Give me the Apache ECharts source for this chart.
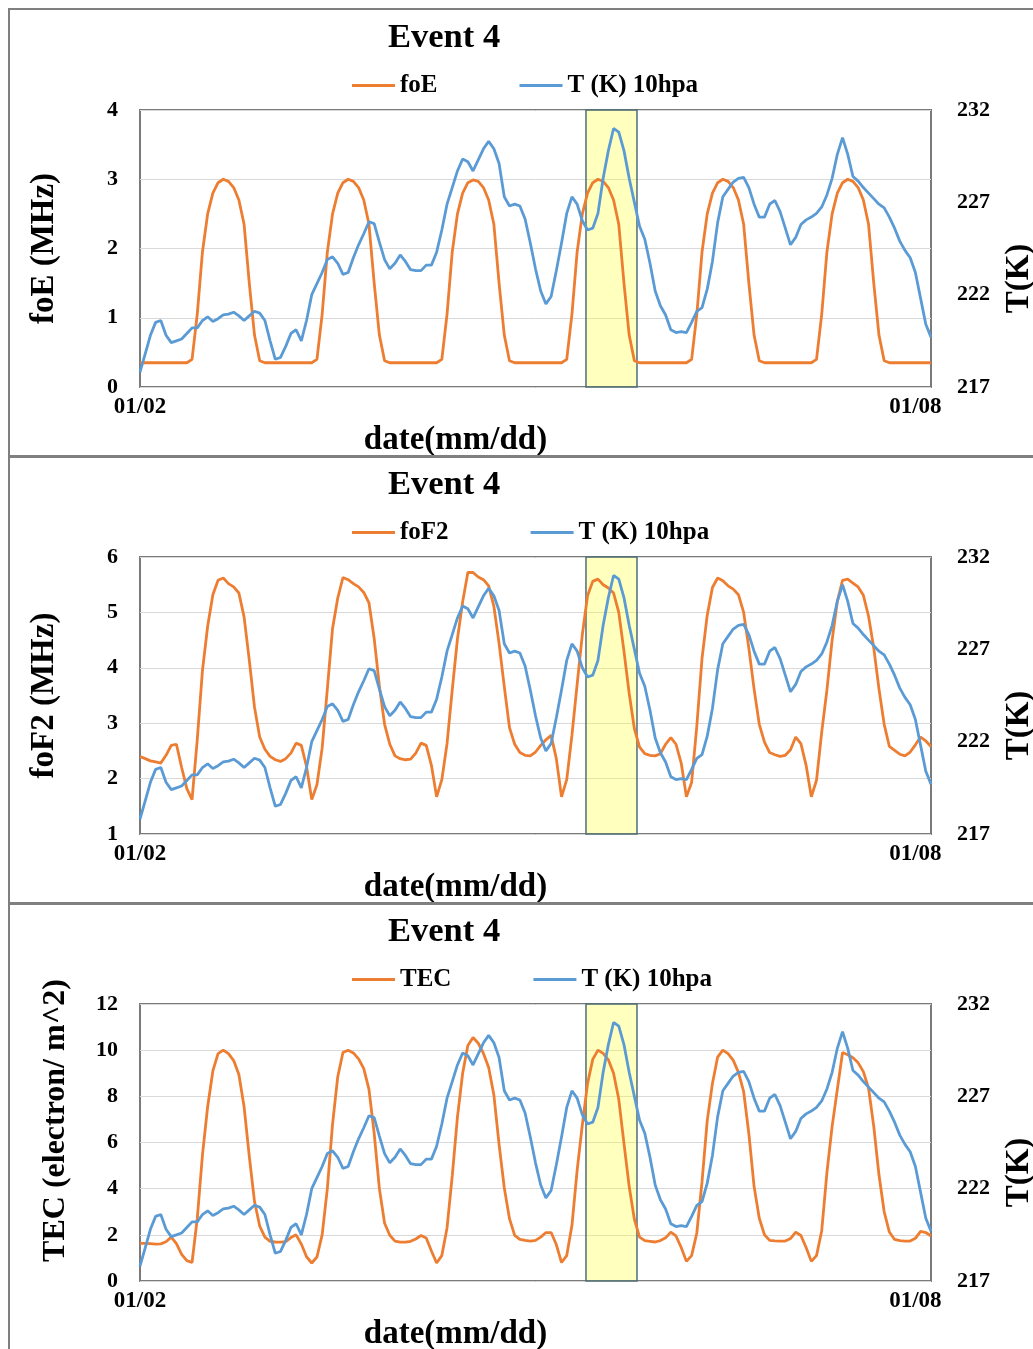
<!DOCTYPE html>
<html><head><meta charset="utf-8">
<script src="https://cdn.jsdelivr.net/npm/echarts@6/dist/echarts.min.js"></script>
<style>html,body{margin:0;padding:0;background:#fff}#c{width:1033px;height:1349px}</style>
</head><body><div id="c"></div>
<script>
// hourly samples from 01/02 00:00
const hours = Array.from({length: 153}, (_, i) => i);
const xTickHours = [0, 149];
const xTickLabels = ['01/02', '01/08'];
const highlightHours = [85.7, 95.5];

const tempK = [
217.8,218.8,219.8,220.5,220.6,219.8,219.4,219.5,219.6,219.9,
220.2,220.2,220.6,220.8,220.55,220.7,220.9,220.95,221.05,220.85,
220.6,220.85,221.1,221.0,220.6,219.5,218.5,218.6,219.2,219.9,
220.1,219.5,220.6,222.0,222.6,223.2,223.9,224.05,223.7,223.1,
223.2,224.0,224.7,225.3,225.95,225.85,224.85,223.9,223.4,223.7,
224.15,223.8,223.35,223.3,223.3,223.6,223.6,224.3,225.5,226.9,
227.8,228.7,229.35,229.2,228.7,229.3,229.9,230.3,229.9,229.1,
227.3,226.8,226.9,226.8,226.1,224.8,223.4,222.2,221.5,221.9,
223.3,224.8,226.4,227.3,226.9,226.0,225.5,225.6,226.4,228.3,
229.8,231.0,230.8,229.8,228.3,227.0,225.7,225.0,223.7,222.2,
221.4,220.9,220.1,219.95,220.0,219.95,220.5,221.1,221.3,222.3,
223.8,225.9,227.3,227.7,228.1,228.3,228.35,227.8,226.9,226.2,
226.2,226.9,227.1,226.5,225.6,224.7,225.1,225.8,226.05,226.2,
226.4,226.75,227.4,228.3,229.6,230.5,229.6,228.4,228.15,227.8,
227.5,227.2,226.9,226.7,226.2,225.6,224.9,224.4,224.0,223.2,
221.8,220.4,219.7];

const foE = [
0.35,0.35,0.35,0.35,0.35,0.35,0.35,0.35,0.35,0.35,0.4,1.05,1.95,2.5,2.8,2.95,3.0,2.97,2.88,2.7,2.35,1.5,0.75,0.38,
0.35,0.35,0.35,0.35,0.35,0.35,0.35,0.35,0.35,0.35,0.4,1.05,1.95,2.5,2.8,2.95,3.0,2.97,2.88,2.7,2.35,1.5,0.75,0.38,
0.35,0.35,0.35,0.35,0.35,0.35,0.35,0.35,0.35,0.35,0.4,1.05,1.95,2.5,2.8,2.95,2.99,2.97,2.88,2.7,2.35,1.5,0.75,0.38,
0.35,0.35,0.35,0.35,0.35,0.35,0.35,0.35,0.35,0.35,0.4,1.05,1.95,2.5,2.8,2.95,3.0,2.97,2.88,2.7,2.35,1.5,0.75,0.38,
0.35,0.35,0.35,0.35,0.35,0.35,0.35,0.35,0.35,0.35,0.4,1.05,1.95,2.5,2.8,2.95,3.0,2.97,2.88,2.7,2.35,1.5,0.75,0.38,
0.35,0.35,0.35,0.35,0.35,0.35,0.35,0.35,0.35,0.35,0.4,1.05,1.95,2.5,2.8,2.95,3.0,2.97,2.88,2.7,2.35,1.5,0.75,0.38,
0.35,0.35,0.35,0.35,0.35,0.35,0.35,0.35,0.35];

const foF2 = [
2.40,2.36,2.32,2.30,2.28,2.42,2.60,2.62,2.20,1.82,
1.62,2.70,3.95,4.75,5.32,5.58,5.62,5.52,5.46,5.35,
4.92,4.14,3.29,2.75,2.53,2.40,2.34,2.31,2.36,2.46,
2.64,2.60,2.22,1.62,1.89,2.55,3.62,4.71,5.26,5.63,
5.59,5.52,5.46,5.36,5.17,4.53,3.67,2.98,2.62,2.41,
2.36,2.34,2.35,2.46,2.64,2.60,2.24,1.67,1.98,2.63,
3.60,4.52,5.19,5.72,5.72,5.64,5.59,5.48,5.11,4.44,
3.66,2.92,2.62,2.47,2.42,2.41,2.48,2.60,2.70,2.78,
2.36,1.67,1.98,2.78,3.70,4.60,5.30,5.56,5.60,5.50,
5.44,5.35,5.00,4.30,3.54,2.90,2.57,2.45,2.42,2.41,
2.45,2.62,2.74,2.62,2.28,1.67,1.93,2.95,4.17,4.95,
5.45,5.62,5.57,5.48,5.42,5.32,5.00,4.35,3.62,2.98,
2.66,2.47,2.43,2.40,2.42,2.52,2.75,2.63,2.24,1.67,
1.97,2.84,3.60,4.50,5.20,5.58,5.60,5.53,5.46,5.31,
4.93,4.36,3.62,2.98,2.58,2.51,2.44,2.41,2.48,2.61,
2.75,2.68,2.58];

const tec = [
1.63,1.63,1.62,1.60,1.61,1.70,1.90,1.62,1.15,0.88,
0.80,2.70,5.45,7.55,9.10,9.85,10.0,9.85,9.55,8.95,
7.55,5.40,3.45,2.38,1.90,1.72,1.69,1.68,1.70,1.88,
2.00,1.60,1.05,0.78,1.04,2.00,4.00,6.80,8.85,9.90,
10.0,9.88,9.62,9.20,8.30,6.40,4.00,2.50,1.98,1.73,
1.68,1.68,1.72,1.82,1.97,1.86,1.30,0.78,1.10,2.30,
4.55,7.10,9.00,10.2,10.55,10.3,9.86,9.25,8.06,5.92,
4.04,2.70,1.98,1.80,1.76,1.73,1.76,1.90,2.10,2.10,
1.58,0.80,1.10,2.40,4.79,6.77,8.55,9.60,10.0,9.86,
9.58,9.00,7.87,5.96,4.10,2.67,1.90,1.75,1.72,1.69,
1.75,1.87,2.12,1.95,1.45,0.85,1.10,2.08,4.30,6.95,
8.56,9.70,10.0,9.85,9.56,9.04,8.20,6.38,4.10,2.72,
2.00,1.76,1.74,1.73,1.73,1.84,2.12,1.97,1.45,0.85,
1.10,2.18,4.70,6.70,8.30,9.90,9.80,9.67,9.45,9.07,
8.35,6.70,4.60,3.00,2.12,1.80,1.75,1.73,1.73,1.85,
2.15,2.10,1.95];

const panels = [
  {name: 'foE',  values: foE,  yName: 'foE (MHz)', min: 0, max: 4, interval: 1, nameSize: 33, nameGap: 79, namePad: [0, 0, 0, 0]},
  {name: 'foF2', values: foF2, yName: 'foF2 (MHz)', min: 1, max: 6, interval: 1, nameSize: 33, nameGap: 79, namePad: [0, 0, 0, 0]},
  {name: 'TEC',  values: tec,  yName: 'TEC (electron/ m^2)', min: 0, max: 12, interval: 2, nameSize: 32, nameGap: 68, namePad: [0, 0, 0, 44]}
];
const tName = 'T (K) 10hpa';
const tMin = 217, tMax = 232, tInterval = 5;

const FONT = 'Liberation Serif, Times New Roman, serif';
const ORANGE = '#ED7D31', BLUE = '#5B9BD5';
const PANEL_H = 447, PLOT_TOP = 110, PLOT_LEFT = 140, PLOT_W = 791, PLOT_H = 277;

const option = {
  backgroundColor: '#fff',
  animation: false,
  title: [], legend: [], grid: [], xAxis: [], yAxis: [], series: [],
  graphic: []
};

panels.forEach((p, i) => {
  const off = i * PANEL_H;
  option.graphic.push({
    type: 'rect', silent: true, z: 100,
    shape: {x: 9, y: 9 + off, width: 1100, height: PANEL_H + 1},
    style: {fill: 'none', stroke: '#7f7f7f', lineWidth: 2}
  });
  option.title.push({
    text: 'Event 4', left: 383, top: 16 + off,
    textStyle: {fontFamily: FONT, fontWeight: 'bold', fontSize: 34.5, color: '#000'}
  });
  option.legend.push({
    data: [p.name, tName], left: 352, top: 73 + off, padding: 0,
    icon: 'rect', itemWidth: 43, itemHeight: 3, itemGap: 82,
    textStyle: {fontFamily: FONT, fontWeight: 'bold', fontSize: 25, color: '#000'}
  });
  option.grid.push({
    left: PLOT_LEFT, top: PLOT_TOP + off, width: PLOT_W, height: PLOT_H,
    containLabel: false, outerBoundsMode: 'none',
    show: true, borderColor: '#7a7a7a', borderWidth: 2, backgroundColor: '#fff'
  });
  option.xAxis.push({
    type: 'value', gridIndex: i, min: 0, max: hours[hours.length - 1],
    axisLine: {show: false}, axisTick: {show: false}, splitLine: {show: false},
    axisLabel: {
      customValues: xTickHours,
      formatter: v => xTickLabels[xTickHours.indexOf(v)] || '',
      fontFamily: FONT, fontWeight: 'bold', fontSize: 23, color: '#000', margin: 9
    },
    name: 'date(mm/dd)', nameLocation: 'middle', nameGap: 37,
    nameTextStyle: {fontFamily: FONT, fontWeight: 'bold', fontSize: 33, color: '#000', padding: [0, 160, 0, 0]}
  });
  option.yAxis.push({
    type: 'value', gridIndex: i, min: p.min, max: p.max, interval: p.interval,
    axisLine: {show: false}, axisTick: {show: false},
    splitLine: {show: true, lineStyle: {color: '#d9d9d9', width: 1}},
    axisLabel: {fontFamily: FONT, fontWeight: 'bold', fontSize: 22, color: '#000', margin: 22},
    name: p.yName, nameLocation: 'middle', nameRotate: 90, nameGap: p.nameGap,
    nameTextStyle: {fontFamily: FONT, fontWeight: 'bold', fontSize: p.nameSize, color: '#000', padding: p.namePad}
  });
  option.yAxis.push({
    type: 'value', gridIndex: i, position: 'right', min: tMin, max: tMax, interval: tInterval,
    axisLine: {show: false}, axisTick: {show: false}, splitLine: {show: false},
    axisLabel: {fontFamily: FONT, fontWeight: 'bold', fontSize: 22, color: '#000', margin: 26},
    name: 'T(K)', nameLocation: 'middle', nameRotate: 90, nameGap: 72,
    nameTextStyle: {fontFamily: FONT, fontWeight: 'bold', fontSize: 33, color: '#000', padding: [0, 60, 0, 0]}
  });
  option.series.push({
    name: p.name, type: 'line', xAxisIndex: i, yAxisIndex: 2 * i,
    data: hours.map((h, k) => [h, p.values[k]]),
    showSymbol: false, symbol: 'none', z: 2,
    lineStyle: {color: ORANGE, width: 2.8}, itemStyle: {color: ORANGE}
  });
  option.series.push({
    name: tName, type: 'line', xAxisIndex: i, yAxisIndex: 2 * i + 1,
    data: hours.map((h, k) => [h, tempK[k]]),
    showSymbol: false, symbol: 'none', z: 3,
    lineStyle: {color: BLUE, width: 2.8}, itemStyle: {color: BLUE}
  });
  option.series.push({
    name: 'highlight', type: 'line', xAxisIndex: i, yAxisIndex: 2 * i,
    data: [], z: 5, silent: true,
    markArea: {
      silent: true,
      itemStyle: {color: 'rgba(255,255,40,0.3)', borderColor: '#4f6d7a', borderWidth: 1.5},
      data: [[{xAxis: highlightHours[0]}, {xAxis: highlightHours[1]}]]
    }
  });
});

const chart = echarts.init(document.getElementById('c'), null, {renderer: 'canvas'});
chart.setOption(option);
</script>
</body></html>
